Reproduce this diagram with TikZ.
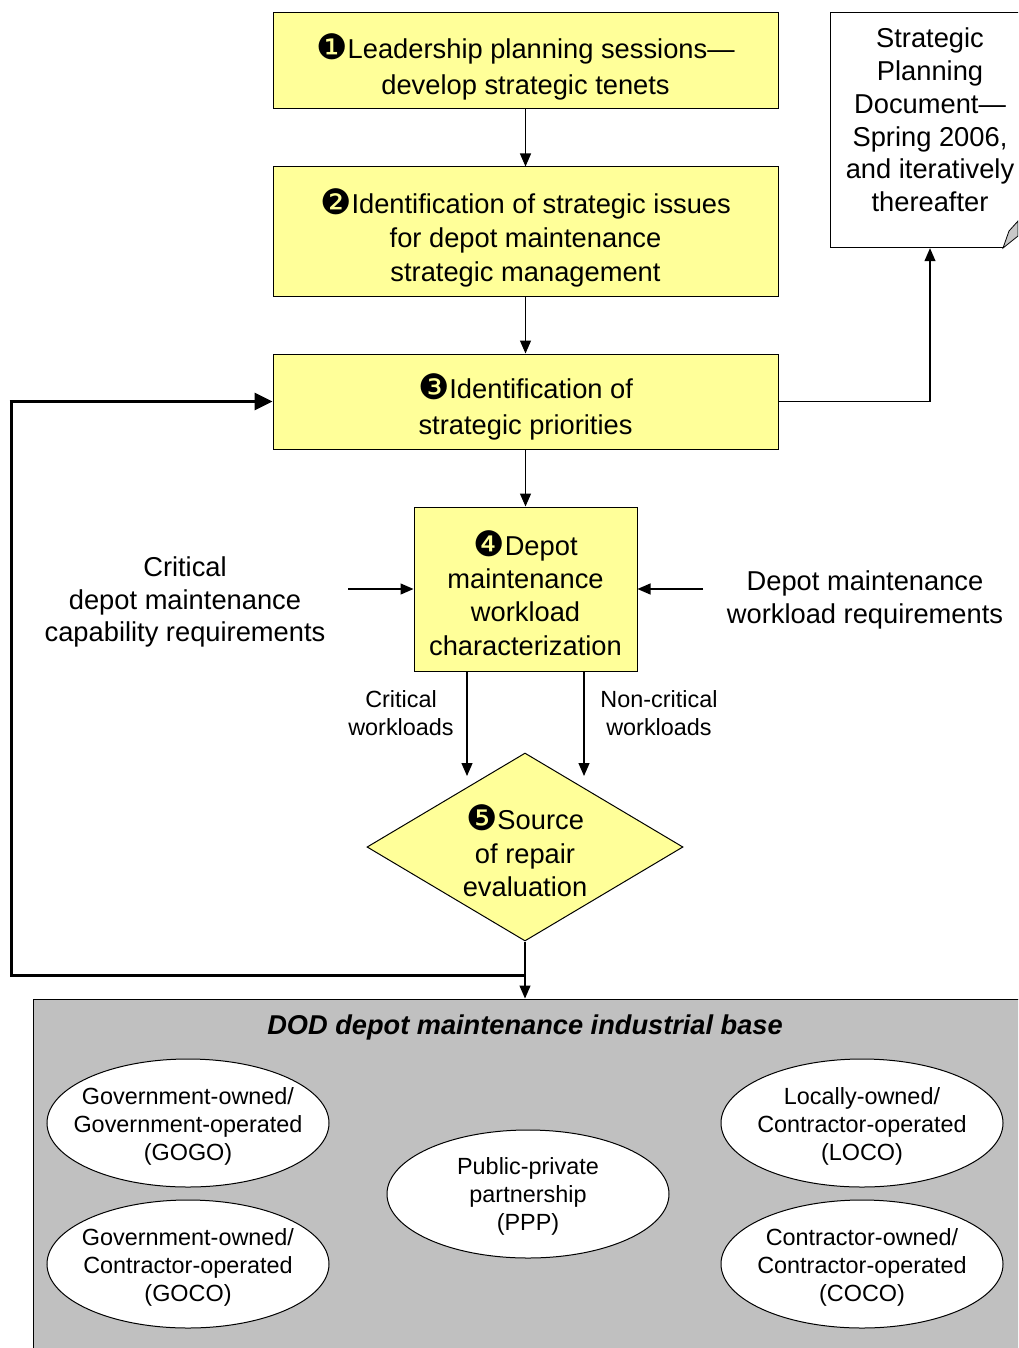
\documentclass[tikz,border=0pt]{standalone}
\usepackage{fontspec}
\setmainfont{Liberation Sans}
\newfontfamily\dingfont{DejaVu Sans}
\usetikzlibrary{shapes.geometric,arrows.meta}
\definecolor{paleyellow}{HTML}{FFFF99}
\definecolor{basegray}{HTML}{C0C0C0}
\definecolor{flapgray}{HTML}{C8C8C8}
\newcommand{\nummark}[1]{{\dingfont\fontsize{35}{35}\selectfont\raisebox{-1pt}{#1}}}
\tikzset{
  stepbox/.style={draw=black, line width=1pt, fill=paleyellow, rectangle, inner sep=0pt},
  plain/.style={align=center, font=\fontsize{27.3}{35}\selectfont, inner sep=0pt},
  small/.style={align=center, font=\fontsize{23.4}{28}\selectfont, inner sep=0pt},
  category/.style={draw=black, line width=1pt, fill=white, ellipse, minimum width=282pt,
    minimum height=128pt, inner sep=0pt},
  flow/.style={line width=1.2pt, -{Triangle[length=13pt,width=11pt]}},
  loop/.style={line width=3pt},
  looptip/.style={line width=3pt, -{Triangle[length=18pt,width=17pt]}}
}
\begin{document}
\begin{tikzpicture}[x=1pt,y=-1pt]
\clip (0,0) rectangle (1018,1348);
\fill[white] (0,0) rectangle (1018,1348);

% industrial base panel
\node (base) [draw=black, line width=1pt, fill=basegray, rectangle, minimum width=1007pt,
  minimum height=361pt, inner sep=0pt] at (536.5,1179.5) {};
\node (basetitle) [plain, font=\fontsize{27.2}{30}\selectfont\bfseries\itshape] at (525,1027)
  {DOD depot maintenance industrial base};
\node (gogo) [category] at (188,1123) {};
\node (goco) [category] at (188,1264) {};
\node (ppp)  [category] at (528,1194) {};
\node (loco) [category] at (862,1123) {};
\node (coco) [category] at (862,1264) {};
\node [small] at (188,1126) {Government-owned/\\Government-operated\\(GOGO)};
\node [small] at (188,1267) {Government-owned/\\Contractor-operated\\(GOCO)};
\node [small] at (528,1196) {Public-private\\partnership\\(PPP)};
\node [small] at (862,1126) {Locally-owned/\\Contractor-operated\\(LOCO)};
\node [small] at (862,1267) {Contractor-owned/\\Contractor-operated\\(COCO)};

% process steps
\node (s1) [stepbox, minimum width=505pt, minimum height=96pt] at (525.5,61) {};
\node [plain, font=\fontsize{27.3}{36}\selectfont] at (525.5,67)
  {\nummark{❶}Leadership planning sessions—\\develop strategic tenets};
\node (s2) [stepbox, minimum width=505pt, minimum height=129pt] at (525.5,231.5) {};
\node [plain, font=\fontsize{27.3}{34}\selectfont] at (525.5,238)
  {\nummark{❷}Identification of strategic issues\\for depot maintenance\\strategic management};
\node (s3) [stepbox, minimum width=505pt, minimum height=95pt] at (525.5,401.5) {};
\node [plain, font=\fontsize{27.3}{36}\selectfont] at (525.5,407)
  {\nummark{❸}Identification of\\strategic priorities};
\node (s4) [stepbox, minimum width=223pt, minimum height=164pt] at (525.5,589) {};
\node [plain, font=\fontsize{27.3}{33.3}\selectfont] at (525.5,593)
  {\nummark{❹}Depot\\maintenance\\workload\\characterization};
\node (s5) [diamond, draw=black, line width=1pt, fill=paleyellow, minimum width=316pt,
  minimum height=188pt, inner sep=0pt] at (525,847) {};
\node [plain, font=\fontsize{27.3}{33.5}\selectfont] at (525,851)
  {\nummark{❺}Source\\of repair\\evaluation};

% strategic planning document
\node (doc) [minimum width=200pt, minimum height=235pt, inner sep=0pt] at (930,130.5) {};
\node [plain, font=\fontsize{27.3}{32.8}\selectfont] at (930,120)
  {Strategic\\Planning\\Document—\\Spring 2006,\\and iteratively\\thereafter};
\draw[line width=1pt] (1030,13) -- (830,13) -- (830,248) -- (1003,248);
\draw[line width=0.8pt, fill=flapgray] (1003,248) -- (1009,231) -- (1018,221) -- (1018,236) -- cycle;

% inputs to workload characterization
\node (critreq) [plain, font=\fontsize{27.3}{32.5}\selectfont] at (185,602)
  {Critical\\depot maintenance\\capability requirements};
\node (workreq) [plain, font=\fontsize{27.3}{32.5}\selectfont] at (865,600)
  {Depot maintenance\\workload requirements};
\node (critlab) [small] at (401,713) {Critical\\workloads};
\node (noncritlab) [small] at (659,713) {Non-critical\\workloads};

% connectors
\draw[flow] (s1.south) -- (s2.north);
\draw[flow] (s2.south) -- (s3.north);
\draw[flow] (s3.south) -- (s4.north);
\draw[flow] (s3.east) -- (930,401.5) -- (doc.south);
\coordinate (critin) at (348,589);
\coordinate (workin) at (703,589);
\draw[flow] (critin) -- (s4.west);
\draw[flow] (workin) -- (s4.east);
\coordinate (critend) at (467,776);
\coordinate (noncritend) at (584,776);
\draw[flow] (s4.south -| critend) -- (critend);
\draw[flow] (s4.south -| noncritend) -- (noncritend);
\draw[flow] (s5.south) -- (base.north -| s5.south);
\coordinate (loopturn) at (525,975);
\coordinate (loopcorner) at (11,975);
\draw[loop] (loopturn) -- (loopcorner) -- (loopcorner |- s3.west);
\draw[looptip] ([xshift=-1.5pt]loopcorner |- s3.west) -- (s3.west);
\end{tikzpicture}
\end{document}
